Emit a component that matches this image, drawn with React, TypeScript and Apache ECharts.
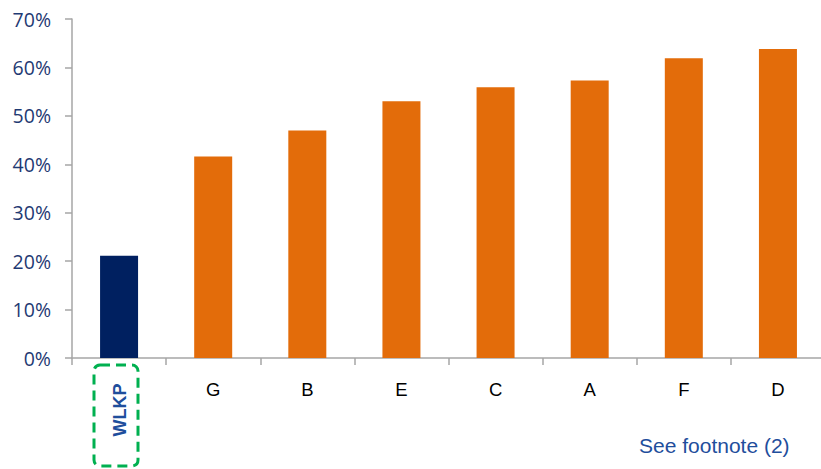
import React, { useEffect, useRef } from "react";
import * as echarts from "echarts";

const categories = ["WLKP", "G", "B", "E", "C", "A", "F", "D"];
const values = [21.1, 41.6, 47.0, 53.0, 55.9, 57.3, 61.9, 63.8];
const barColors = ["#002060", "#E36C0A", "#E36C0A", "#E36C0A", "#E36C0A", "#E36C0A", "#E36C0A", "#E36C0A"];
const yTicks = [0, 10, 20, 30, 40, 50, 60, 70];
const footnote = "See footnote (2)";

export default function App() {
  const ref = useRef<HTMLDivElement>(null);
  useEffect(() => {
    document.body.style.margin = "0";
    if (!ref.current) return;
    const chart = echarts.init(ref.current, null, { renderer: "svg" });
    chart.setOption({
      animation: false,
      grid: { left: 72, top: 19, bottom: 111, right: -4, outerBoundsMode: "none", containLabel: false },
      xAxis: {
        type: "category",
        data: categories,
        boundaryGap: true,
        axisLine: { lineStyle: { color: "#A6A6A6", width: 1.5 } },
        axisTick: { show: true, interval: 0, length: 7, lineStyle: { color: "#A6A6A6", width: 1.5 } },
        axisLabel: {
          interval: 0,
          margin: 22,
          fontSize: 18.5,
          color: "#000000",
          fontFamily: "Liberation Sans",
          formatter: (v: string, i: number) => (i === 0 ? "" : v),
        },
      },
      yAxis: {
        type: "value",
        min: yTicks[0],
        max: yTicks[yTicks.length - 1],
        interval: 10,
        splitLine: { show: false },
        axisLine: { show: true, lineStyle: { color: "#A6A6A6", width: 1.5 } },
        axisTick: { show: true, length: 7, lineStyle: { color: "#A6A6A6", width: 1.5 } },
        axisLabel: {
          margin: 21,
          fontSize: 19.5,
          color: "#1F3A73",
          fontFamily: "Open Sans",
          formatter: (v: number) => v + "%",
        },
      },
      series: [
        {
          type: "bar",
          data: values.map((v, i) => ({ value: v, itemStyle: { color: barColors[i] } })),
          barWidth: 38,
        },
      ],
      graphic: [
        {
          type: "rect",
          shape: { x: 94, y: 365, width: 44, height: 101, r: 6 },
          style: { fill: "none", stroke: "#00B050", lineWidth: 3, lineDash: [10, 6] },
        },
        {
          type: "text",
          x: 120,
          y: 410,
          rotation: Math.PI / 2,
          style: {
            text: categories[0],
            fontSize: 18,
            fontWeight: "bold",
            fill: "#1F4E9C",
            fontFamily: "Liberation Sans",
            align: "center",
            verticalAlign: "middle",
          },
        },
        {
          type: "text",
          left: 639,
          top: 435,
          style: {
            text: footnote,
            fontSize: 21,
            fill: "#1F4E9C",
            fontFamily: "Liberation Sans",
          },
        },
      ],
    });
    return () => chart.dispose();
  }, []);
  return <div ref={ref} style={{ width: 821, height: 469 }} />;
}
